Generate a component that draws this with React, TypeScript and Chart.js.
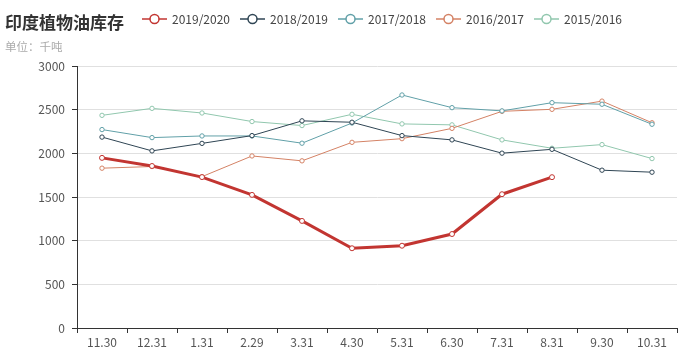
import React, { useEffect, useRef } from "react";
import { Chart, registerables } from "chart.js";

Chart.register(...registerables);

const title = "印度植物油库存";
const subtitle = "单位：千吨";
const categories = ["11.30", "12.31", "1.31", "2.29", "3.31", "4.30", "5.31", "6.30", "7.31", "8.31", "9.30", "10.31"];
const seriesNames = ["2019/2020", "2018/2019", "2017/2018", "2016/2017", "2015/2016"];
const colors = ["#c23531", "#2f4554", "#61a0a8", "#d48265", "#91c7ae"];
const s2019 = [1948, 1855, 1728, 1524, 1226, 913, 942, 1076, 1532, 1727, null, null];
const s2018 = [2186, 2028, 2114, 2203, 2372, 2356, 2203, 2154, 2002, 2046, 1807, 1784];
const s2017 = [2272, 2180, 2199, 2199, 2116, 2347, 2668, 2523, 2486, 2580, 2562, 2333];
const s2016 = [1830, 1849, 1733, 1970, 1914, 2126, 2168, 2286, 2481, 2504, 2598, 2350];
const s2015 = [2435, 2515, 2462, 2364, 2318, 2447, 2337, 2326, 2154, 2058, 2100, 1940];
const seriesData = [s2019, s2018, s2017, s2016, s2015];
const yMin = 0;
const yMax = 3000;
const yStep = 500;

const FONT = "'Noto Sans CJK SC', 'Open Sans', sans-serif";

export default function App() {
  const ref = useRef<HTMLCanvasElement | null>(null);

  useEffect(() => {
    const canvas = ref.current;
    if (!canvas) return;
    const chart = new Chart(canvas, {
      type: "line",
      data: {
        labels: categories,
        datasets: seriesData.map((d, i) => ({
          label: seriesNames[i],
          data: d,
          borderColor: colors[i],
          backgroundColor: "#ffffff",
          borderWidth: i === 0 ? 3 : 1,
          pointRadius: i === 0 ? 2.5 : 2.2,
          pointBorderWidth: 1,
          pointBorderColor: colors[i],
          pointBackgroundColor: "#ffffff",
          tension: 0,
          spanGaps: false,
        })),
      },
      options: {
        responsive: false,
        animation: false,
        events: [],
        layout: { padding: { left: 0, right: 11, top: 66, bottom: 0 } },
        plugins: {
          legend: { display: false },
          title: { display: false },
          tooltip: { enabled: false },
        },
        scales: {
          x: {
            type: "category",
            offset: true,
            grid: {
              offset: true,
              drawOnChartArea: false,
              drawTicks: true,
              tickLength: 5,
              color: "#333333",
            },
            border: { display: true, color: "#333333", width: 1 },
            ticks: {
              color: "#555555",
              font: { family: FONT, size: 12 },
              padding: 2,
              maxRotation: 0,
              autoSkip: false,
            },
            afterFit: (scale: any) => {
              scale.height = 25;
            },
          },
          y: {
            min: yMin,
            max: yMax,
            grid: {
              color: "#e0e0e0",
              tickColor: "#333333",
              tickLength: 5,
              drawTicks: true,
            },
            border: { display: true, color: "#333333", width: 1 },
            ticks: {
              stepSize: yStep,
              color: "#555555",
              font: { family: FONT, size: 12 },
              padding: 7,
              callback: (v: any) => String(v),
            },
            afterFit: (scale: any) => {
              scale.width = 77;
            },
          },
        },
      },
    });
    return () => chart.destroy();
  }, []);

  return (
    <div style={{ position: "fixed", left: 0, top: 0, width: 688, height: 353, background: "#fff", overflow: "hidden" }}>
      <canvas ref={ref} width={688} height={353} style={{ position: "absolute", left: 0, top: 0, width: 688, height: 353 }} />
      <div
        style={{
          position: "absolute",
          left: 5,
          top: 12,
          fontFamily: FONT,
          fontSize: 17,
          fontWeight: 700,
          color: "#333333",
          lineHeight: "20px",
          whiteSpace: "nowrap",
        }}
      >
        {title}
      </div>
      <div
        style={{
          position: "absolute",
          left: 5,
          top: 38,
          fontFamily: FONT,
          fontSize: 11.5,
          color: "#aaaaaa",
          lineHeight: "16px",
          whiteSpace: "nowrap",
        }}
      >
        {subtitle}
      </div>
      <div
        style={{
          position: "absolute",
          left: 142,
          top: 10,
          height: 18,
          display: "flex",
          alignItems: "center",
          fontFamily: FONT,
          fontSize: 12,
          color: "#444444",
          whiteSpace: "nowrap",
        }}
      >
        {seriesNames.map((name, i) => (
          <div key={name} style={{ display: "flex", alignItems: "center", marginRight: 10 }}>
            <svg width={25} height={14} style={{ display: "block", marginRight: 5 }}>
              <line x1={0} y1={7} x2={25} y2={7} stroke={colors[i]} strokeWidth={1.5} />
              <circle cx={12.5} cy={7} r={4.5} fill="#ffffff" stroke={colors[i]} strokeWidth={1.5} />
            </svg>
            <span style={{ lineHeight: "18px" }}>{name}</span>
          </div>
        ))}
      </div>
    </div>
  );
}
